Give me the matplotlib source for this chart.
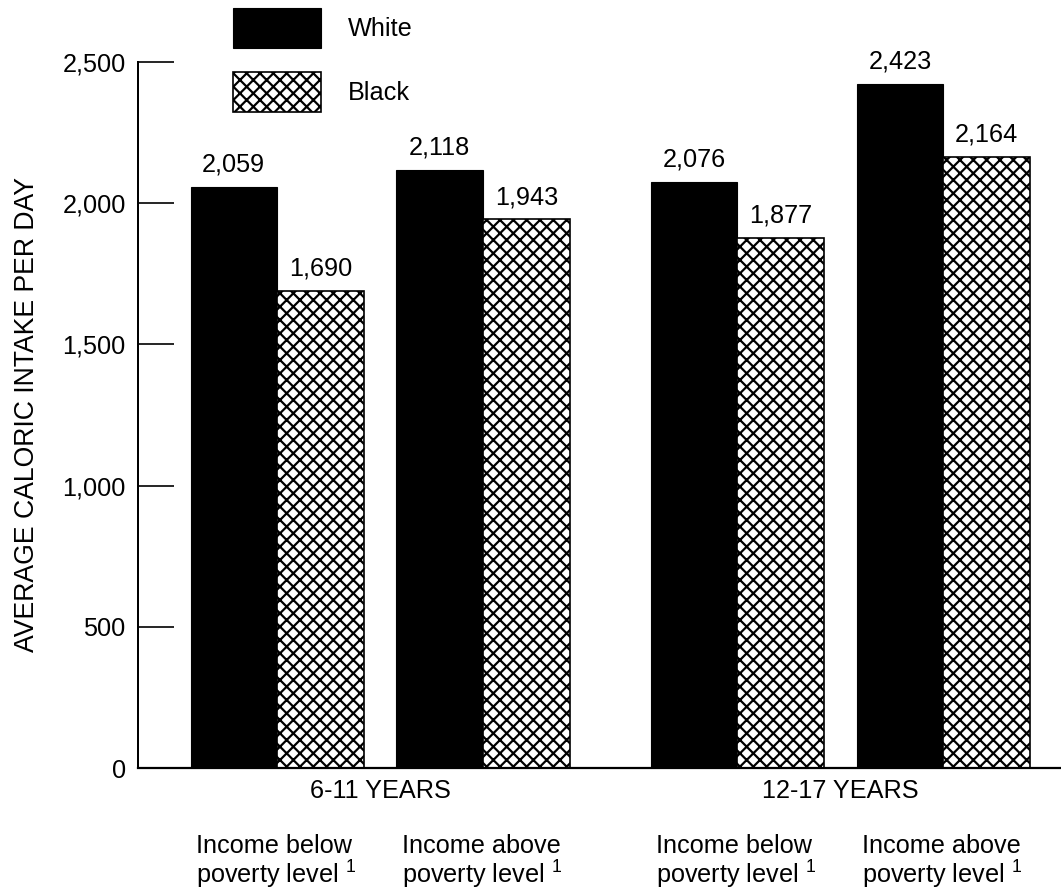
import matplotlib
matplotlib.use('Agg')
import matplotlib.pyplot as plt
import numpy as np
from matplotlib.patches import Patch

plt.rcParams['font.family'] = ['Liberation Sans', 'DejaVu Sans']
plt.rcParams['mathtext.fontset'] = 'custom'
plt.rcParams['mathtext.rm'] = 'Liberation Sans'
plt.rcParams['mathtext.it'] = 'Liberation Sans'
plt.rcParams['hatch.linewidth'] = 2.0

# ---- data ----
age_groups = ["6-11 YEARS", "12-17 YEARS"]
income_groups = ["Income below\npoverty level $^1$", "Income above\npoverty level $^1$"]
series_names = ["White", "Black"]
white_values = [2059, 2118, 2076, 2423]
black_values = [1690, 1943, 1877, 2164]
y_ticks = [0, 500, 1000, 1500, 2000, 2500]
y_label = "AVERAGE CALORIC INTAKE PER DAY"

# ---- layout ----
DPI = 80
W, H = 1061, 892
bar_w = 1.0
age_step = 5.32
inc_step = 2.38

fig = plt.figure(figsize=(W / DPI, H / DPI), dpi=DPI)
ax = fig.add_axes([138 / W, 124 / H, 923 / W, 706 / H])

pair_centers = []
for a in range(len(age_groups)):
    for i in range(len(income_groups)):
        pair_centers.append(a * age_step + i * inc_step)
pair_centers = np.array(pair_centers)

ax.bar(pair_centers - bar_w / 2, white_values, width=bar_w, color='black',
       edgecolor='black', linewidth=1)
ax.bar(pair_centers + bar_w / 2, black_values, width=bar_w, color='white',
       edgecolor='black', hatch='xx', linewidth=1.5)

fs = 22.7
for x, v in zip(pair_centers - bar_w / 2, white_values):
    ax.annotate(f"{v:,}", xy=(x, v), xytext=(0, 13.5), textcoords='offset points',
                ha='center', va='baseline', fontsize=fs)
for x, v in zip(pair_centers + bar_w / 2, black_values):
    ax.annotate(f"{v:,}", xy=(x, v), xytext=(0, 13.5), textcoords='offset points',
                ha='center', va='baseline', fontsize=fs)

for a, age in enumerate(age_groups):
    cx = pair_centers[a * 2:(a + 1) * 2].mean()
    ax.annotate(age, xy=(cx, 0), xytext=(0, -20.5), textcoords='offset points',
                ha='center', va='center', fontsize=fs, annotation_clip=False)

for k, pc in enumerate(pair_centers):
    lab = income_groups[k % len(income_groups)]
    ax.annotate(lab, xy=(pc - bar_w + 0.06, 0), xytext=(0, -59.5), textcoords='offset points',
                ha='left', va='top', fontsize=fs, linespacing=1.02, annotation_clip=False)

ax.set_xlim(-1.607, 9.06)
ax.set_ylim(0, 2500)
ax.set_xticks([])
ax.set_yticks(y_ticks)
ax.set_yticklabels([f"{v:,}" for v in y_ticks])
ax.tick_params(axis='y', direction='in', length=32, width=1.5, pad=11, labelsize=fs)
for s in ['top', 'right']:
    ax.spines[s].set_visible(False)
ax.spines['left'].set_linewidth(1.8)
ax.spines['bottom'].set_linewidth(2)
ax.set_ylabel(y_label, fontsize=24)
ax.yaxis.set_label_coords(-0.106, 0.5)

handles = [Patch(facecolor='black', edgecolor='black'),
           Patch(facecolor='white', edgecolor='black', hatch='xx', linewidth=1.5)]
fig.legend(handles, series_names, loc='upper left', bbox_to_anchor=(233 / W, 1 - 8 / H),
           frameon=False, fontsize=fs, handlelength=3.5, handleheight=2.05,
           labelspacing=0.95, handletextpad=1.05, borderpad=0, borderaxespad=0)

fig.savefig('out.png', dpi=DPI)
